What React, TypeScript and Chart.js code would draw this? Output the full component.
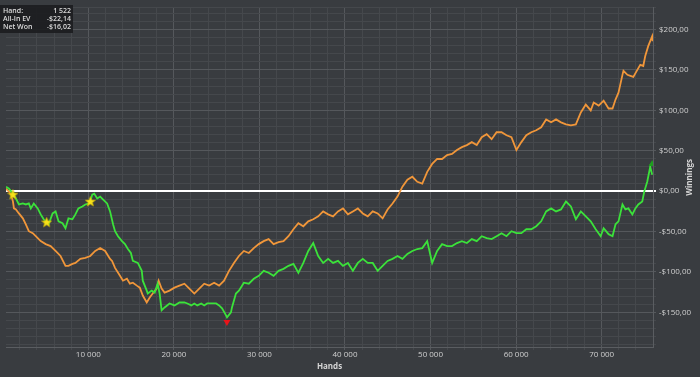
import React, { useEffect, useRef } from 'react';
import { Chart, registerables } from 'chart.js';

Chart.register(...registerables);

const NET_HANDS = [382, 730, 1193, 1541, 1888, 2351, 2699, 3046, 3278, 3625, 4089, 4436, 4784, 5131, 5363, 5826, 6174, 6521, 6985, 7332, 7680, 8143, 8490, 8838, 9301, 9648, 9996, 10228, 10459, 10691, 11039, 11386, 11734, 12197, 12544, 12892, 13124, 13471, 13934, 14282, 14629, 14977, 15208, 15788, 16251, 16367, 16830, 16946, 17410, 17757, 18104, 18336, 18568, 18915, 19494, 20073, 20652, 21232, 21579, 22043, 22390, 22738, 23201, 23548, 23896, 24359, 24938, 25286, 25633, 26097, 26212, 26675, 26791, 27023, 27255, 27602, 28181, 28760, 29340, 29919, 30498, 31077, 31656, 32235, 32815, 33394, 33973, 34552, 35131, 35710, 36290, 36869, 37448, 38027, 38606, 39185, 39765, 40344, 40923, 41502, 42081, 42660, 43240, 43819, 44398, 44977, 45556, 46135, 46715, 47294, 47873, 48452, 49031, 49610, 50190, 50769, 51348, 51927, 52506, 53085, 53665, 54244, 54823, 55402, 55981, 56560, 57140, 57719, 58298, 58877, 59456, 60035, 60615, 61194, 61773, 62352, 62931, 63510, 64090, 64669, 65248, 65827, 66406, 66985, 67565, 68144, 68723, 69302, 69881, 70229, 70808, 71271, 71619, 71966, 72430, 72777, 73125, 73588, 73936, 74283, 74746, 74978, 75325, 75673, 75905];
const NET_WON = [5.5, 3.1, -3.1, -9.2, -16.5, -15.3, -16.5, -15.3, -21.4, -15.3, -21.4, -28.8, -34.9, -38.6, -41.1, -27.6, -25.1, -37.4, -39.8, -46.0, -33.7, -34.9, -28.8, -21.4, -19.0, -16.5, -15.3, -12.9, -4.3, -3.1, -9.2, -6.7, -10.4, -15.3, -25.1, -41.1, -49.6, -55.8, -61.9, -65.6, -71.7, -76.6, -86.4, -88.9, -98.7, -110.9, -123.2, -126.8, -123.2, -125.6, -114.6, -126.8, -147.7, -144.0, -139.1, -141.5, -137.9, -137.9, -139.1, -141.5, -139.1, -141.5, -139.1, -141.5, -139.1, -139.1, -139.1, -141.5, -145.2, -153.8, -156.3, -150.1, -144.0, -135.4, -126.8, -123.2, -113.4, -114.6, -108.5, -104.8, -98.7, -101.1, -104.8, -98.7, -96.2, -92.5, -90.1, -101.1, -88.9, -74.1, -64.3, -80.3, -88.9, -83.9, -88.9, -86.4, -92.5, -88.9, -98.7, -88.9, -83.9, -88.9, -88.9, -98.7, -92.5, -86.4, -83.9, -80.3, -83.9, -77.8, -74.1, -71.7, -70.5, -61.9, -88.9, -74.1, -65.6, -68.0, -68.0, -64.3, -61.9, -64.3, -59.4, -61.9, -55.8, -58.2, -59.4, -55.8, -52.1, -55.8, -49.6, -52.1, -52.1, -47.2, -47.2, -43.5, -37.4, -25.1, -21.4, -25.1, -22.7, -12.9, -19.0, -34.9, -25.1, -31.2, -37.4, -47.2, -55.8, -46.0, -53.3, -55.8, -41.1, -37.4, -16.5, -22.7, -21.4, -28.8, -21.4, -16.5, -12.9, -0.6, 11.6, 30.0, 20.2];

const EV_HANDS = [382, 730, 961, 1193, 1309, 1541, 1888, 2351, 2699, 3046, 3510, 3857, 4436, 5015, 5595, 6174, 6753, 7332, 7680, 8143, 8490, 9069, 9648, 10228, 10807, 11386, 11965, 12544, 12776, 13124, 13703, 14050, 14513, 14861, 15208, 15672, 16019, 16367, 16830, 17178, 17525, 17989, 18220, 18568, 18915, 19494, 20073, 20652, 21232, 21811, 22390, 22969, 23548, 24127, 24707, 25286, 25865, 26444, 27023, 27602, 28181, 28760, 29340, 29919, 30498, 31077, 31656, 32235, 32815, 33394, 33973, 34552, 35131, 35710, 36290, 36869, 37448, 38027, 38606, 39185, 39765, 40344, 40923, 41502, 42081, 42660, 43240, 43819, 44398, 44977, 45556, 46135, 46715, 47294, 47873, 48452, 49031, 49610, 50190, 50769, 51348, 51927, 52506, 53085, 53665, 54244, 54823, 55402, 55981, 56560, 57140, 57719, 58298, 58877, 59456, 60035, 60615, 61194, 61773, 62352, 62931, 63510, 64090, 64669, 65248, 65827, 66406, 66985, 67565, 68144, 68723, 69070, 69650, 70229, 70808, 71271, 71619, 71966, 72430, 72546, 73009, 73356, 73704, 74167, 74515, 74862, 75094, 75441, 75905, 75960];
const ALL_IN_EV = [3.1, -0.6, -4.3, -12.9, -21.4, -22.7, -27.6, -33.7, -41.1, -49.6, -52.1, -55.8, -61.9, -65.6, -68.0, -74.1, -80.3, -92.5, -92.5, -90.1, -88.9, -83.9, -82.7, -80.3, -74.1, -70.5, -74.1, -83.9, -86.4, -95.0, -104.8, -110.9, -108.5, -114.6, -113.4, -117.0, -119.5, -129.3, -137.9, -131.7, -126.8, -120.7, -110.9, -120.7, -125.6, -123.2, -119.5, -117.0, -114.6, -120.7, -126.8, -120.7, -114.6, -117.0, -113.4, -117.0, -110.9, -98.7, -88.9, -80.3, -74.1, -76.6, -70.5, -65.6, -61.9, -59.4, -65.6, -63.1, -61.9, -55.8, -47.2, -39.8, -43.5, -37.4, -34.9, -31.2, -25.1, -28.8, -31.2, -25.1, -21.4, -28.8, -25.1, -21.4, -27.6, -31.2, -25.1, -27.6, -33.7, -22.7, -15.3, -6.7, 5.5, 14.1, 17.8, 11.6, 9.2, 23.9, 33.7, 39.8, 39.8, 44.7, 46.0, 50.9, 54.5, 57.0, 60.7, 57.0, 66.8, 70.5, 64.3, 72.9, 72.9, 69.2, 66.8, 50.9, 60.7, 69.2, 72.9, 75.4, 79.0, 88.8, 85.2, 88.8, 85.2, 82.7, 81.5, 82.7, 97.4, 107.2, 99.9, 109.7, 106.0, 112.1, 102.3, 102.3, 113.4, 121.9, 144.0, 148.9, 144.0, 142.8, 141.5, 150.1, 156.3, 155.0, 167.3, 179.5, 191.8, 185.7];

const STAR_HANDS = [1190, 5130, 10230];
const STAR_VALUES = [-4.3, -38.6, -12.9];
const LOW_HAND = [26200];
const LOW_VALUE = [-162];
const HIGH_HAND = [75900];
const HIGH_VALUE = [33.7];

const X_MIN = 380;
const X_MAX = 76000;
const Y_MIN = -193;
const Y_MAX = 227;

const TOOLTIP_LABELS = ['Hand:', 'All-In EV', 'Net Won'];
const TOOLTIP_VALUES = ['1 522', '-$22,14', '-$16,02'];

const X_TITLE = 'Hands';
const Y_TITLE = 'Winnings';

const FONT = '"Open Sans", "DejaVu Sans", sans-serif';

function fmtHands(v: number) {
  return String(v).replace(/\B(?=(\d{3})+(?!\d))/g, ' ');
}
function fmtMoney(v: number) {
  const s = '$' + Math.abs(v).toFixed(2).replace('.', ',');
  return v < 0 ? '-' + s : s;
}

function makeStar(): HTMLCanvasElement {
  const c = document.createElement('canvas');
  c.width = 11;
  c.height = 11;
  const g = c.getContext('2d')!;
  const cx = 5.5, cy = 5.8, R = 5.3, r = 2.3;
  g.beginPath();
  for (let i = 0; i < 10; i++) {
    const a = -Math.PI / 2 + (i * Math.PI) / 5;
    const rad = i % 2 === 0 ? R : r;
    const px = cx + rad * Math.cos(a);
    const py = cy + rad * Math.sin(a);
    if (i === 0) g.moveTo(px, py);
    else g.lineTo(px, py);
  }
  g.closePath();
  g.fillStyle = '#f7e21b';
  g.fill();
  g.strokeStyle = '#c9b000';
  g.lineWidth = 0.6;
  g.stroke();
  return c;
}

const overlayPlugin = {
  id: 'overlay',
  beforeDraw(chart: any) {
    const ctx = chart.ctx;
    ctx.save();
    ctx.fillStyle = '#393c40';
    ctx.fillRect(0, 0, chart.width, chart.height);
    ctx.restore();
  },
  afterDraw(chart: any) {
    const ctx = chart.ctx;
    const area = chart.chartArea;
    ctx.save();
    ctx.fillStyle = '#d4d4d4';
    ctx.font = `bold 8px ${FONT}`;
    ctx.textAlign = 'center';
    ctx.textBaseline = 'middle';
    ctx.fillText(X_TITLE, (area.left + area.right) / 2, 367);
    ctx.translate(690, (area.top + area.bottom) / 2);
    ctx.rotate(-Math.PI / 2);
    ctx.fillText(Y_TITLE, 0, 0);
    ctx.restore();

    ctx.save();
    ctx.fillStyle = 'rgba(28,29,31,0.92)';
    ctx.fillRect(0, 5, 73, 28);
    ctx.font = `600 7px ${FONT}`;
    ctx.fillStyle = '#dcdcdc';
    ctx.textBaseline = 'middle';
    TOOLTIP_LABELS.forEach((l, i) => {
      ctx.textAlign = 'left';
      ctx.fillText(l, 3, 11 + i * 8);
      ctx.textAlign = 'right';
      ctx.fillText(TOOLTIP_VALUES[i], 71, 11 + i * 8);
    });
    ctx.restore();
  },
};

export default function App() {
  const ref = useRef<HTMLCanvasElement>(null);
  useEffect(() => {
    const canvas = ref.current!;
    const star = makeStar();
    const chart = new Chart(canvas, {
      type: 'line',
      data: {
        datasets: [
          {
            label: 'stars',
            data: STAR_HANDS.map((h, i) => ({ x: h, y: STAR_VALUES[i] })),
            showLine: false,
            pointStyle: star as any,
            pointRadius: 5,
          },
          {
            label: 'low',
            data: LOW_HAND.map((h, i) => ({ x: h, y: LOW_VALUE[i] })),
            showLine: false,
            pointStyle: 'triangle',
            rotation: 180,
            pointRadius: 4,
            backgroundColor: '#e8141a',
            borderColor: '#e8141a',
            borderWidth: 0,
          },
          {
            label: 'high',
            data: HIGH_HAND.map((h, i) => ({ x: h, y: HIGH_VALUE[i] })),
            showLine: false,
            pointStyle: 'triangle',
            pointRadius: 4,
            backgroundColor: '#1d9e1d',
            borderColor: '#1d9e1d',
            borderWidth: 0,
          },
          {
            label: 'Net Won',
            data: NET_HANDS.map((h, i) => ({ x: h, y: NET_WON[i] })),
            borderColor: '#3be23a',
            borderWidth: 1.8,
            pointRadius: 0,
            tension: 0,
          },
          {
            label: 'All-In EV',
            data: EV_HANDS.map((h, i) => ({ x: h, y: ALL_IN_EV[i] })),
            borderColor: '#f0963a',
            borderWidth: 1.8,
            pointRadius: 0,
            tension: 0,
          },
        ],
      },
      options: {
        animation: false,
        responsive: false,
        devicePixelRatio: 1,
        layout: { padding: { top: 4, left: 0, right: 0, bottom: 0 } },
        plugins: { legend: { display: false }, tooltip: { enabled: false } },
        scales: {
          x: {
            type: 'linear',
            min: X_MIN,
            max: X_MAX,
            afterBuildTicks(scale: any) {
              const t = [];
              for (let v = 2000; v < X_MAX; v += 2000) t.push({ value: v });
              scale.ticks = t;
            },
            afterFit(scale: any) {
              scale.height = 30;
            },
            ticks: {
              autoSkip: false,
              maxRotation: 0,
              padding: 0,
              color: '#cfcfcf',
              font: { size: 8, family: FONT },
              callback: (v: any) => (Number(v) % 10000 === 0 ? fmtHands(Number(v)) : ''),
            },
            grid: {
              tickLength: 3,
              color: (c: any) => (c.tick && c.tick.value % 10000 === 0 ? '#55585c' : '#45484c'),
              lineWidth: 1,
            },
            border: { display: true, color: '#5a5d61' },
          },
          y: {
            type: 'linear',
            position: 'right',
            min: Y_MIN,
            max: Y_MAX,
            afterBuildTicks(scale: any) {
              const t = [];
              for (let v = -190; v <= 220; v += 10) t.push({ value: v });
              t.push({ value: Y_MAX });
              scale.ticks = t;
            },
            afterFit(scale: any) {
              scale.width = 47;
            },
            ticks: {
              autoSkip: false,
              padding: 3,
              color: '#cfcfcf',
              font: { size: 8, family: FONT },
              callback: (v: any) => (Number(v) % 50 === 0 ? fmtMoney(Number(v)) : ''),
            },
            grid: {
              tickLength: 3,
              color: (c: any) => {
                const v = c.tick ? c.tick.value : 1;
                if (v === 0) return '#ffffff';
                return v % 50 === 0 ? '#55585c' : '#45484c';
              },
              lineWidth: (c: any) => (c.tick && c.tick.value === 0 ? 2 : 1),
            },
            border: { display: true, color: '#5a5d61' },
          },
        },
      },
      plugins: [overlayPlugin],
    } as any);
    return () => chart.destroy();
  }, []);
  return (
    <div style={{ position: 'fixed', left: 0, top: 0, width: 700, height: 377 }}>
      <canvas ref={ref} width={700} height={377} />
    </div>
  );
}
